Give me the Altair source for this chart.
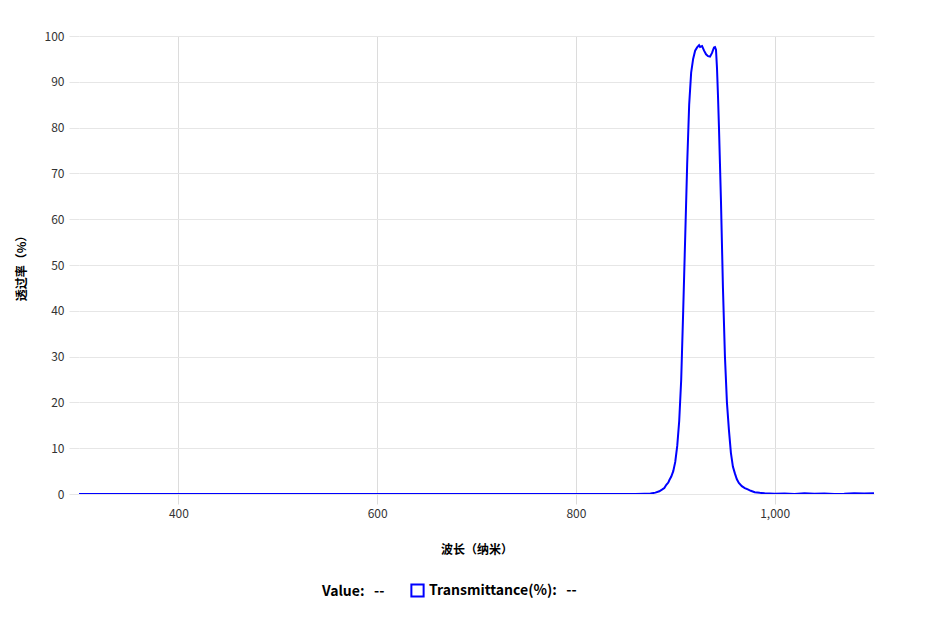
import altair as alt
import pandas as pd

wavelength = [300, 860, 869, 875, 880, 884, 887, 889, 891, 893, 894, 896, 898, 900, 902, 904, 906, 908, 910, 912,
              914, 916, 918, 920, 922, 924, 925, 927, 929, 931, 933, 935, 937, 939, 940, 941, 942, 943, 944, 946,
              948, 950, 952, 954, 956, 958, 960, 962, 964, 967, 970, 973, 976, 980, 985, 990, 1000, 1010, 1020,
              1030, 1040, 1050, 1060, 1070, 1080, 1090, 1100]
transmittance = [0, 0, 0.05, 0.1, 0.3, 0.6, 1.0, 1.3, 2.0, 2.5, 3.0, 3.8, 5.0, 7.0, 10.5, 16, 25, 40, 56, 72,
                 85, 92, 95, 96.8, 97.5, 98.0, 97.6, 97.8, 96.8, 96.0, 95.6, 95.5, 96.3, 97.5, 97.6, 97.0, 93, 87, 80, 64,
                 45, 30, 20, 14, 9, 6, 4.5, 3.2, 2.4, 1.7, 1.3, 1.0, 0.7, 0.4, 0.25, 0.15, 0.05, 0.1, 0.0,
                 0.15, 0.05, 0.1, 0.0, 0.05, 0.15, 0.1, 0.15]
x_ticks = [400, 600, 800, 1000]
y_ticks = [0, 10, 20, 30, 40, 50, 60, 70, 80, 90, 100]
series_name = "Transmittance(%)"

df = pd.DataFrame({"wl": wavelength, "t": transmittance, "series": series_name})
FONT = "Noto Sans CJK SC"
NB = "\u00a0"

line = alt.Chart(df).mark_line(strokeWidth=2, clip=True).encode(
    x=alt.X("wl:Q", scale=alt.Scale(domain=[300, 1100], nice=False, zero=False),
            axis=alt.Axis(values=x_ticks, format=",d", title="波长（纳米）", grid=True,
                          gridColor="#dcdcdc", domain=False, tickColor="#dcdcdc", tickSize=10,
                          labelFont=FONT, labelFontSize=12, labelColor="#333333", labelPadding=4,
                          titleFont=FONT, titleFontSize=12, titleFontWeight="bold", titleColor="#000000",
                          titlePadding=25)),
    y=alt.Y("t:Q", scale=alt.Scale(domain=[0, 100], nice=False),
            axis=alt.Axis(values=y_ticks, title="透过率（%）", grid=True, gridColor="#e6e6e6",
                          domain=False, tickColor="#e6e6e6", tickSize=10,
                          labelFont=FONT, labelFontSize=12, labelColor="#333333", labelPadding=5,
                          titleFont=FONT, titleFontSize=12, titleFontWeight="bold", titleColor="#000000",
                          titlePadding=16)),
    color=alt.Color("series:N", scale=alt.Scale(domain=[series_name], range=["#0000ff"]),
                    legend=alt.Legend(title=None, orient="none", legendX=331, legendY=547,
                                      symbolType="square", symbolFillColor="white", symbolStrokeWidth=2,
                                      symbolSize=150, labelExpr="datum.label + ':\u00a0\u00a0\u00a0--'",
                                      labelFont=FONT, labelFontSize=14, labelFontWeight="bold",
                                      labelColor="#000000", labelLimit=300, symbolOffset=0)),
)

value_text = alt.Chart(pd.DataFrame({"txt": ["Value:" + NB * 3 + "--"]})).mark_text(
    font=FONT, fontSize=14, fontWeight="bold", align="left", baseline="middle", color="#000000", clip=False
).encode(x=alt.value(243), y=alt.value(556), text="txt:N")

chart = alt.layer(line, value_text).properties(
    width=795, height=458,
    autosize=alt.AutoSizeParams(type="none"),
    padding={"left": 71, "top": 28, "right": 47, "bottom": 120},
).configure(background="white").configure_view(stroke=None)

chart.save("out.html", embed_options={"renderer": "svg", "actions": False})
